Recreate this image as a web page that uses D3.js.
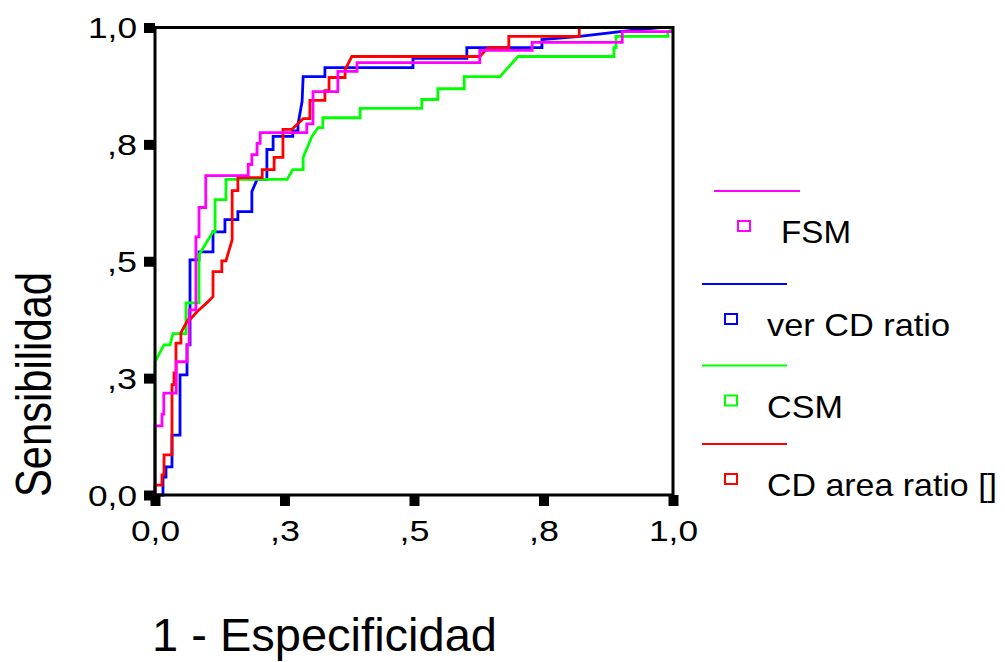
<!DOCTYPE html>
<html>
<head>
<meta charset="utf-8">
<script src="https://cdn.jsdelivr.net/npm/d3@7"></script>
<style>
  html, body { margin: 0; padding: 0; background: #fff; }
  svg { display: block; font-family: "Liberation Sans", Arial, sans-serif; }
</style>
</head>
<body>
<svg id="chart" width="1005" height="662"></svg>
<script>
// ---- data ----
const tickValues = [0, 0.25, 0.5, 0.75, 1];
const tickLabels = ["0,0", ",3", ",5", ",8", "1,0"];

const seriesNames = ["FSM", "ver CD ratio", "CSM", "CD area ratio []"];
const seriesColors = ["#ff00ff", "#0000ff", "#00ff00", "#ff0000"];

// FSM (magenta)
const fsmX = [0, 0, 0.0135, 0.0135, 0.017, 0.017, 0.041, 0.041, 0.062, 0.062, 0.066, 0.066, 0.079, 0.079, 0.085, 0.085, 0.098, 0.098, 0.180, 0.180, 0.187, 0.187, 0.197, 0.197, 0.203, 0.203, 0.293, 0.293, 0.305, 0.305, 0.353, 0.353, 0.390, 0.390, 0.627, 0.627, 0.728, 0.728, 0.902, 0.902, 1.0];
const fsmY = [0, 0.148, 0.148, 0.173, 0.173, 0.218, 0.218, 0.285, 0.285, 0.321, 0.321, 0.396, 0.396, 0.552, 0.552, 0.615, 0.615, 0.683, 0.683, 0.707, 0.707, 0.728, 0.728, 0.752, 0.752, 0.775, 0.775, 0.794, 0.794, 0.863, 0.863, 0.906, 0.906, 0.925, 0.925, 0.951, 0.951, 0.968, 0.968, 0.991, 0.991];

// ver CD ratio (blue)
const verX = [0, 0.0154, 0.0154, 0.0212, 0.0212, 0.0328, 0.0328, 0.0483, 0.0483, 0.0618, 0.0618, 0.0676, 0.0676, 0.085, 0.085, 0.112, 0.112, 0.135, 0.135, 0.160, 0.160, 0.187, 0.187, 0.197, 0.216, 0.216, 0.228, 0.228, 0.266, 0.266, 0.276, 0.276, 0.284, 0.286, 0.328, 0.328, 0.498, 0.498, 0.602, 0.602, 0.747, 0.747, 0.820, 0.898, 0.975, 1.0];
const verY = [0, 0, 0.0385, 0.0385, 0.060, 0.060, 0.128, 0.128, 0.257, 0.257, 0.321, 0.321, 0.503, 0.503, 0.520, 0.520, 0.563, 0.563, 0.589, 0.589, 0.606, 0.606, 0.649, 0.675, 0.675, 0.739, 0.739, 0.767, 0.767, 0.779, 0.779, 0.792, 0.842, 0.895, 0.895, 0.914, 0.914, 0.934, 0.934, 0.957, 0.957, 0.974, 0.981, 0.991, 1.0, 1.0];

// CSM (green)
const csmX = [0, 0, 0.0174, 0.029, 0.0347, 0.0598, 0.0598, 0.085, 0.085, 0.112, 0.116, 0.116, 0.137, 0.137, 0.255, 0.266, 0.286, 0.286, 0.303, 0.315, 0.324, 0.324, 0.396, 0.396, 0.515, 0.515, 0.546, 0.546, 0.597, 0.597, 0.666, 0.701, 0.886, 0.886, 0.890, 0.890, 0.990, 0.990, 1.0];
const csmY = [0, 0.285, 0.321, 0.321, 0.345, 0.345, 0.411, 0.411, 0.514, 0.563, 0.563, 0.632, 0.632, 0.675, 0.675, 0.696, 0.696, 0.722, 0.767, 0.786, 0.786, 0.807, 0.807, 0.827, 0.827, 0.846, 0.846, 0.869, 0.869, 0.895, 0.895, 0.938, 0.938, 0.957, 0.957, 0.981, 0.981, 0.989, 1.0];

// CD area ratio [] (red)
const areaX = [0, 0, 0.0135, 0.0135, 0.0174, 0.0174, 0.0328, 0.0328, 0.0367, 0.0367, 0.0405, 0.0405, 0.050, 0.050, 0.0637, 0.0676, 0.081, 0.100, 0.112, 0.112, 0.129, 0.129, 0.137, 0.149, 0.149, 0.160, 0.160, 0.207, 0.207, 0.230, 0.230, 0.247, 0.247, 0.264, 0.286, 0.299, 0.299, 0.328, 0.328, 0.336, 0.336, 0.367, 0.367, 0.380, 0.627, 0.643, 0.683, 0.683, 0.819, 0.819, 1.0];
const areaY = [0, 0.021, 0.021, 0.043, 0.043, 0.086, 0.086, 0.236, 0.236, 0.261, 0.261, 0.325, 0.325, 0.347, 0.375, 0.375, 0.392, 0.411, 0.424, 0.478, 0.478, 0.501, 0.501, 0.546, 0.651, 0.651, 0.679, 0.679, 0.696, 0.696, 0.722, 0.722, 0.782, 0.782, 0.805, 0.805, 0.844, 0.844, 0.865, 0.865, 0.893, 0.893, 0.910, 0.938, 0.938, 0.957, 0.957, 0.981, 0.981, 1.0, 1.0];

const seriesX = [fsmX, verX, csmX, areaX];
const seriesY = [fsmY, verY, csmY, areaY];
// drawing order (bottom to top): ver CD ratio, CSM, CD area ratio, FSM
const drawOrder = [1, 2, 3, 0];

// ---- chart ----
const svg = d3.select("#chart");
const x = d3.scaleLinear().domain([0, 1]).range([155, 673]);
const y = d3.scaleLinear().domain([0, 1]).range([495, 27.5]);

// curves
const line = d3.line().x(d => x(d[0])).y(d => y(d[1]));
drawOrder.forEach(i => {
  const pts = seriesX[i].map((v, k) => [v, seriesY[i][k]]);
  svg.append("path")
    .attr("d", line(pts))
    .attr("fill", "none")
    .attr("stroke", seriesColors[i])
    .attr("stroke-width", 2.8)
    .attr("stroke-linejoin", "miter");
});

// frame
svg.append("rect")
  .attr("x", x(0)).attr("y", y(1))
  .attr("width", x(1) - x(0)).attr("height", y(0) - y(1))
  .attr("fill", "none").attr("stroke", "#000").attr("stroke-width", 3);

// axes (square tick marks)
const fmt = d => tickLabels[tickValues.indexOf(d)];
const labelWidth = s => s.split("").reduce((w, c) => w + (c === "," ? 11 : 19), 0);
const yAxis = d3.axisLeft(y).tickValues(tickValues).tickFormat(fmt).tickSize(11).tickPadding(7);
const xAxis = d3.axisBottom(x).tickValues(tickValues).tickFormat(fmt).tickSize(11).tickPadding(14);

const gy = svg.append("g").attr("transform", `translate(${x(0)},0)`).call(yAxis);
const gx = svg.append("g").attr("transform", `translate(0,${y(0)})`).call(xAxis);
[gy, gx].forEach(g => {
  g.select(".domain").remove();
  g.selectAll(".tick line").attr("stroke", "#000").attr("stroke-width", 10);
  g.selectAll(".tick text").attr("fill", "#000").style("font-size", "29px")
    .style("font-family", "Liberation Sans, Arial, sans-serif")
    .attr("textLength", d => labelWidth(fmt(d)))
    .attr("lengthAdjust", "spacingAndGlyphs");
});
gy.selectAll(".tick text").attr("dy", "0.36em");
gx.selectAll(".tick text").attr("dy", "0.71em");

// axis titles
svg.append("text")
  .attr("x", 152).attr("y", 651)
  .style("font-size", "47px")
  .attr("textLength", 345).attr("lengthAdjust", "spacingAndGlyphs")
  .text("1 - Especificidad");

svg.append("text")
  .attr("transform", "translate(51,497) rotate(-90)")
  .style("font-size", "50px")
  .attr("textLength", 225).attr("lengthAdjust", "spacingAndGlyphs")
  .text("Sensibilidad");

// legend
const legLineX = [[714, 800], [702, 787], [702, 787], [702, 787]];
const legLineY = [191, 284, 365.5, 444];
const legSqX = [738, 725, 725, 725];
const legTextX = [781, 767, 767, 767];
const legTextW = [70, 183, 76, 230];
seriesNames.forEach((name, i) => {
  svg.append("line")
    .attr("x1", legLineX[i][0]).attr("x2", legLineX[i][1])
    .attr("y1", legLineY[i]).attr("y2", legLineY[i])
    .attr("stroke", seriesColors[i]).attr("stroke-width", 2);
  svg.append("rect")
    .attr("x", legSqX[i]).attr("y", legLineY[i] + 30)
    .attr("width", 12).attr("height", 10)
    .attr("fill", "none").attr("stroke", seriesColors[i]).attr("stroke-width", 2);
  svg.append("text")
    .attr("x", legTextX[i]).attr("y", legLineY[i] + 52)
    .style("font-size", "32px")
    .attr("textLength", legTextW[i]).attr("lengthAdjust", "spacingAndGlyphs")
    .text(name);
});
</script>
</body>
</html>
